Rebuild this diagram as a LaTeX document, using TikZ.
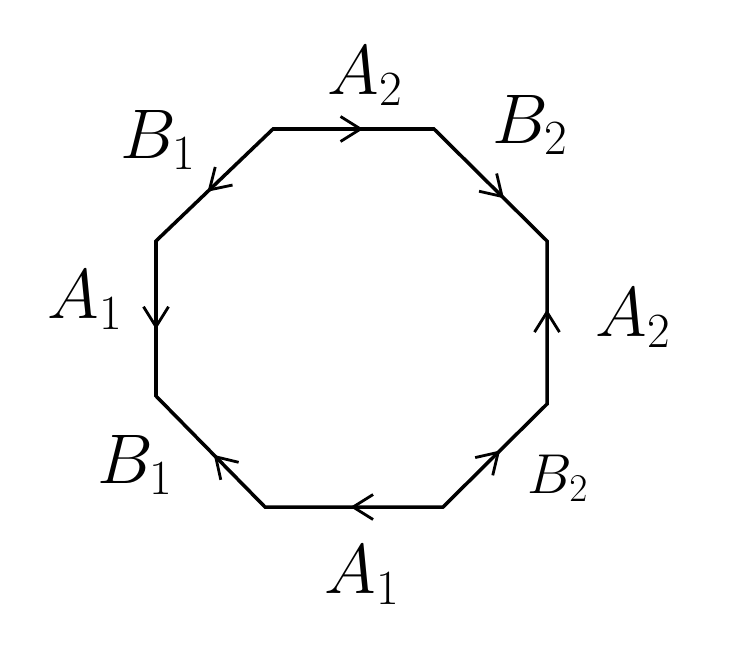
\documentclass[tikz,border=0pt]{standalone}
\usepackage{fix-cm}
\usetikzlibrary{arrows.meta,decorations.markings}

\tikzset{
  edge/.style={line width=2pt, line join=miter},
  midarrow/.style={postaction={decorate}, decoration={markings,
      mark=at position #1 with {\arrow{Straight Barb[length=4mm, width=5mm, line width=1.6pt]}}}},
  lbl/.style={font=\fontsize{40}{48}\selectfont, inner sep=0pt}
}

\begin{document}
\begin{tikzpicture}[x=0.02cm, y=-0.02cm]
  \useasboundingbox (0,0) rectangle (750,646);
  % corners of the octagon
  \coordinate (tl) at (273,129);
  \coordinate (tr) at (434,129);
  \coordinate (rt) at (547,241);
  \coordinate (rb) at (547,404);
  \coordinate (br) at (443,507);
  \coordinate (bl) at (265,507);
  \coordinate (lb) at (156,396);
  \coordinate (lt) at (156,241);

  \draw[edge] (tl) -- (tr) -- (rt) -- (rb) -- (br) -- (bl) -- (lb) -- (lt) -- cycle;

  % edge directions
  \path[midarrow=0.56] (tl) -- (tr);
  \path[midarrow=0.62] (tr) -- (rt);
  \path[midarrow=0.58] (rb) -- (rt);
  \path[midarrow=0.55] (br) -- (rb);
  \path[midarrow=0.52] (br) -- (bl);
  \path[midarrow=0.47] (bl) -- (lb);
  \path[midarrow=0.57] (lt) -- (lb);
  \path[midarrow=0.56] (tl) -- (lt);

  % edge labels
  \node[lbl] (top)  at (365,76)  {$A_2$};
  \node[lbl] (urt)  at (530,125) {$B_2$};
  \node[lbl] (rgt)  at (633,318) {$A_2$};
  \node[lbl, font=\fontsize{32}{38}\selectfont] (lrt) at (558,478) {$B_2$};
  \node[lbl] (bot)  at (362,575) {$A_1$};
  \node[lbl] (llft) at (135,465) {$B_1$};
  \node[lbl] (lft)  at (85,300)  {$A_1$};
  \node[lbl] (ulft) at (158,140) {$B_1$};
\end{tikzpicture}
\end{document}
